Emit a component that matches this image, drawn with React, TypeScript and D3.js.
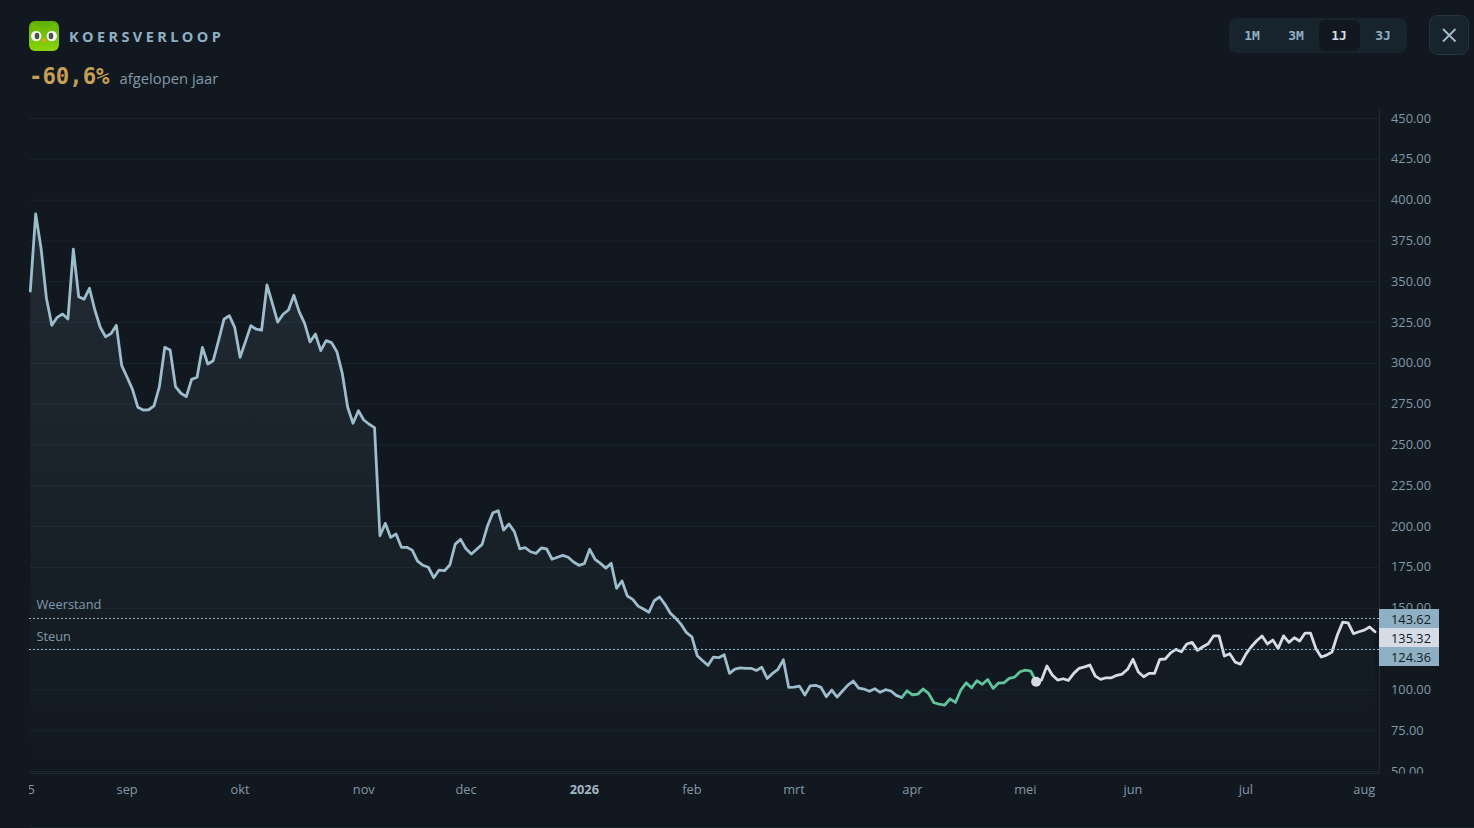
import { useEffect, useRef } from 'react'
import * as d3 from 'd3'

const W = 1474
const H = 828

const BG = '#11181f'
const BLUE = '#9dbccc'
const WHITE = '#d5dce6'
const GREEN = '#5fc49a'
const GRID = '#19242e'
const AXIS_TEXT = '#8199a9'
const LABEL_BLUE = '#8fb0c4'
const TEXT_FONT = "'Open Sans', 'Noto Sans', sans-serif"
const MONO_FONT = "'DejaVu Sans Mono', monospace"

// koers per handelsdag
const PRICES = [
  344.0, 391.2, 370.2, 339.6, 323.0, 327.9, 329.9, 326.9, 369.6, 340.5, 339.0, 345.7, 332.4, 321.8, 316.0, 317.9,
  323.0, 298.3, 291.2, 283.8, 272.8, 271.1, 271.3, 273.6, 285.4, 309.5, 307.9, 285.4, 281.4, 279.3, 289.9, 291.2,
  309.5, 299.3, 301.3, 313.6, 326.7, 328.9, 321.8, 303.4, 313.0, 322.8, 320.6, 320.0, 347.7, 336.5, 325.0, 329.8,
  332.4, 341.4, 331.2, 324.2, 312.8, 317.7, 307.5, 313.6, 312.4, 306.8, 293.6, 272.8, 263.0, 270.7, 265.0, 262.4,
  260.3, 194.1, 201.7, 193.1, 195.2, 187.0, 187.0, 185.3, 178.6, 176.0, 174.8, 168.4, 173.1, 172.7, 176.2, 189.0,
  191.9, 186.1, 182.9, 185.8, 188.8, 200.1, 208.2, 209.4, 197.6, 201.3, 196.6, 186.1, 186.8, 184.3, 183.3, 186.6,
  186.0, 179.7, 180.9, 182.1, 180.9, 178.0, 176.0, 177.0, 185.8, 179.7, 177.2, 174.3, 177.2, 161.9, 166.4, 157.2,
  155.1, 151.0, 149.2, 147.2, 154.3, 156.6, 152.1, 146.6, 143.5, 139.8, 134.7, 132.2, 120.6, 117.5, 114.7, 119.8,
  119.4, 121.2, 109.8, 112.4, 113.2, 112.9, 112.9, 111.6, 113.5, 106.7, 109.8, 112.3, 118.1, 101.2, 101.4, 102.0,
  96.5, 102.2, 102.5, 101.2, 95.5, 99.6, 95.3, 99.0, 102.6, 105.1, 100.8, 100.2, 98.8, 100.4, 98.2, 99.8,
  99.0, 96.3, 95.0, 99.1, 96.7, 97.1, 100.2, 97.5, 91.8, 91.0, 90.4, 94.1, 92.0, 99.6, 104.0, 101.0,
  105.3, 103.1, 106.1, 100.6, 103.9, 104.0, 106.7, 107.5, 110.8, 111.8, 111.2, 104.7, 105.7, 114.3, 108.8, 105.7,
  106.5, 105.5, 109.8, 112.9, 113.8, 114.9, 108.1, 106.1, 107.1, 107.1, 108.6, 109.4, 112.3, 118.4, 110.6, 107.7,
  109.8, 109.8, 118.4, 118.6, 122.4, 124.5, 123.0, 127.8, 128.8, 123.9, 126.1, 127.9, 132.8, 132.8, 120.4, 121.8,
  116.7, 115.5, 121.6, 126.1, 129.8, 132.7, 127.8, 130.2, 125.1, 132.8, 128.8, 131.6, 129.6, 134.5, 134.5, 125.1,
  119.8, 121.0, 122.9, 133.3, 141.2, 140.8, 134.1, 135.3, 136.3, 138.2, 135.32,
]

const GREEN_START = 162
const MARKER = 187

const Y_TICKS = [50, 75, 100, 125, 150, 175, 200, 225, 250, 275, 300, 325, 350, 375, 400, 425, 450]
const X_TICK_POS = [-0.5, 18, 39, 62, 81, 103, 123, 142, 164, 185, 205, 226, 248]
const X_TICK_LABELS = ['25', 'sep', 'okt', 'nov', 'dec', '2026', 'feb', 'mrt', 'apr', 'mei', 'jun', 'jul', 'aug']

const RESISTANCE = 143.62
const SUPPORT = 124.36
const LAST = 135.32

const RANGES = ['1M', '3M', '1J', '3J']
const RANGE_CENTERS = [1252, 1296, 1339, 1383]

const PLOT = { left: 29, right: 1379, top: 108, bottom: 773.5 }

export default function App() {
  const svgRef = useRef<SVGSVGElement>(null)

  useEffect(() => {
    const svg = svgRef.current
    if (!svg) return
    const sel = d3.select(svg)
    sel.selectAll('*').remove()

    const x = d3.scaleLinear().domain([0, PRICES.length - 1]).range([30.3, 1375])
    const y = d3.scaleLinear().domain([50, 450]).range([771, 118])

    const defs = sel.append('defs')
    const grad = defs.append('linearGradient').attr('id', 'area-grad').attr('x1', '0').attr('x2', '0').attr('y1', '0').attr('y2', '1')
    grad.append('stop').attr('offset', '0%').attr('stop-color', BLUE).attr('stop-opacity', 0.12)
    grad.append('stop').attr('offset', '100%').attr('stop-color', BLUE).attr('stop-opacity', 0.0)

    const owlGrad = defs.append('linearGradient').attr('id', 'owl-grad').attr('x1', '0').attr('x2', '0').attr('y1', '0').attr('y2', '1')
    owlGrad.append('stop').attr('offset', '0%').attr('stop-color', '#5fae08')
    owlGrad.append('stop').attr('offset', '100%').attr('stop-color', '#8bd50b')

    defs.append('clipPath').attr('id', 'plot-clip')
      .append('rect').attr('x', PLOT.left).attr('y', PLOT.top).attr('width', W - PLOT.left).attr('height', PLOT.bottom - PLOT.top)

    sel.append('rect').attr('width', W).attr('height', H).attr('fill', BG)
    // onderrand van het paneel
    sel.append('line').attr('x1', PLOT.left).attr('x2', W).attr('y1', 827.5).attr('y2', 827.5).attr('stroke', '#17212a')

    // ── Grid ──────────────────────────────────────────────────────────
    sel.append('g').selectAll('line').data(Y_TICKS).join('line')
      .attr('x1', PLOT.left).attr('x2', PLOT.right)
      .attr('y1', (d) => y(d) + 0.5).attr('y2', (d) => y(d) + 0.5)
      .attr('stroke', GRID)

    // ── Area + lijnen ─────────────────────────────────────────────────
    const area = d3.area<number>().x((_, i) => x(i)).y0(PLOT.bottom - 2).y1((d) => y(d))
    sel.append('path').datum(PRICES).attr('d', area).attr('fill', 'url(#area-grad)')

    const makeLine = (from: number) => d3.line<number>().x((_, i) => x(i + from)).y((d) => y(d))
    const segments = [
      { from: 0, to: GREEN_START, color: BLUE },
      { from: GREEN_START, to: MARKER, color: GREEN },
      { from: MARKER, to: PRICES.length - 1, color: WHITE },
    ]
    segments.forEach((s) => {
      sel.append('path')
        .datum(PRICES.slice(s.from, s.to + 1))
        .attr('d', makeLine(s.from))
        .attr('fill', 'none')
        .attr('stroke', s.color)
        .attr('stroke-width', 2.8)
        .attr('stroke-linejoin', 'round')
        .attr('stroke-linecap', 'round')
    })
    sel.append('circle').attr('cx', x(MARKER)).attr('cy', y(PRICES[MARKER])).attr('r', 5).attr('fill', WHITE)

    // ── Steun / weerstand ─────────────────────────────────────────────
    ;[RESISTANCE, SUPPORT].forEach((v) => {
      sel.append('line')
        .attr('x1', PLOT.left).attr('x2', PLOT.right)
        .attr('y1', Math.floor(y(v)) + 0.5).attr('y2', Math.floor(y(v)) + 0.5)
        .attr('stroke', LABEL_BLUE).attr('stroke-dasharray', '2,2')
    })
    const levelLabels = [
      { label: 'Weerstand', v: RESISTANCE, dy: -9.2 },
      { label: 'Steun', v: SUPPORT, dy: -8.4 },
    ]
    levelLabels.forEach((l) => {
      sel.append('text')
        .attr('x', 36.5).attr('y', y(l.v) + l.dy)
        .attr('fill', AXIS_TEXT).attr('font-size', '12.8px').attr('font-family', TEXT_FONT)
        .text(l.label)
    })

    // ── Assen ─────────────────────────────────────────────────────────
    const axisClip = sel.append('g').attr('clip-path', 'url(#plot-clip)')
    const yAxis = d3.axisRight(y).tickValues(Y_TICKS).tickFormat((d) => d3.format('.2f')(d as number)).tickSize(0).tickPadding(12)
    axisClip.append('g').attr('transform', `translate(${PLOT.right},-0.1)`)
      .call(yAxis)
      .call((g) => g.select('.domain').remove())
      .call((g) => g.selectAll('.tick text').attr('fill', AXIS_TEXT).attr('font-size', '12.8px').attr('font-family', TEXT_FONT))

    sel.append('line').attr('x1', PLOT.right + 0.5).attr('x2', PLOT.right + 0.5).attr('y1', PLOT.top).attr('y2', PLOT.bottom).attr('stroke', '#1e2a34')
    sel.append('line').attr('x1', PLOT.left).attr('x2', PLOT.right).attr('y1', PLOT.bottom).attr('y2', PLOT.bottom).attr('stroke', '#1e2a34')

    defs.append('clipPath').attr('id', 'x-clip')
      .append('rect').attr('x', PLOT.left).attr('y', PLOT.bottom).attr('width', W - PLOT.left).attr('height', H - PLOT.bottom)
    const xAxis = d3.axisBottom(x).tickValues(X_TICK_POS).tickFormat((_, i) => X_TICK_LABELS[i]).tickSize(0).tickPadding(11.5)
    sel.append('g').attr('clip-path', 'url(#x-clip)').append('g').attr('transform', `translate(-0.5,${PLOT.bottom})`)
      .call(xAxis)
      .call((g) => g.select('.domain').remove())
      .call((g) => g.selectAll<SVGTextElement, number>('.tick text')
        .attr('fill', AXIS_TEXT).attr('font-size', '12.8px').attr('font-family', TEXT_FONT)
        .filter((_, i) => X_TICK_LABELS[i] === '2026')
        .attr('font-weight', 700).attr('fill', '#a3b6c4'))

    // ── Prijslabels ───────────────────────────────────────────────────
    const priceLabels = [
      { v: RESISTANCE, top: 609, fill: LABEL_BLUE },
      { v: SUPPORT, top: 647, fill: LABEL_BLUE },
      { v: LAST, top: 628, fill: WHITE },
    ]
    priceLabels.forEach((p) => {
      sel.append('rect').attr('x', PLOT.right).attr('y', p.top).attr('width', 60).attr('height', 19).attr('fill', p.fill)
      sel.append('text')
        .attr('x', PLOT.right + 12).attr('y', p.top + 14.5)
        .attr('fill', '#131a22').attr('font-size', '12.8px').attr('font-family', TEXT_FONT)
        .text(d3.format('.2f')(p.v))
    })

    // ── Header ────────────────────────────────────────────────────────
    const owl = sel.append('g').attr('transform', 'translate(29,21)')
    owl.append('rect').attr('width', 30).attr('height', 30).attr('rx', 6).attr('fill', 'url(#owl-grad)')
    owl.append('path').attr('d', 'M3 2 L11 7 L19 7 L27 2 L27 12 L3 12 Z').attr('fill', '#72bd0a').attr('opacity', 0.7)
    ;[7.2, 22.8].forEach((cx) => {
      owl.append('circle').attr('cx', cx).attr('cy', 15).attr('r', 5.2).attr('fill', '#f4f7ee')
      owl.append('ellipse').attr('cx', cx + (cx < 15 ? 0.8 : -0.8)).attr('cy', 15).attr('rx', 2.3).attr('ry', 3.2).attr('fill', '#4b5052')
    })
    owl.append('path').attr('d', 'M13 18.5 L17 18.5 L15 21.5 Z').attr('fill', '#f09a24').attr('stroke', '#f09a24').attr('stroke-linejoin', 'round')

    sel.append('text')
      .attr('x', 69).attr('y', 41.5)
      .attr('fill', LABEL_BLUE).attr('font-size', '14.5px').attr('font-weight', 700)
      .attr('letter-spacing', '3.4px').attr('font-family', TEXT_FONT)
      .text('KOERSVERLOOP')

    sel.append('text')
      .attr('x', 29).attr('y', 84)
      .attr('fill', '#c49f55').attr('font-size', '22.3px').attr('font-weight', 700).attr('font-family', MONO_FONT)
      .text('-60,6%')
    sel.append('text')
      .attr('x', 119.5).attr('y', 84)
      .attr('fill', AXIS_TEXT).attr('font-size', '14.8px').attr('font-family', TEXT_FONT)
      .text('afgelopen jaar')

    // ── Periodeknoppen ────────────────────────────────────────────────
    sel.append('rect').attr('x', 1229).attr('y', 18).attr('width', 178).attr('height', 35).attr('rx', 8).attr('fill', '#18242d')
    sel.append('rect').attr('x', 1319).attr('y', 20).attr('width', 41).attr('height', 31).attr('rx', 6).attr('fill', '#11181f')
    RANGES.forEach((r, i) => {
      sel.append('text')
        .attr('x', RANGE_CENTERS[i]).attr('y', 40)
        .attr('text-anchor', 'middle')
        .attr('fill', r === '1J' ? '#d5dce6' : LABEL_BLUE)
        .attr('font-size', '13px').attr('font-weight', 700).attr('font-family', MONO_FONT)
        .text(r)
    })

    sel.append('rect').attr('x', 1429.5).attr('y', 15.5).attr('width', 39).attr('height', 39).attr('rx', 8).attr('fill', '#18242d').attr('stroke', '#243540')
    sel.append('path').attr('d', 'M1443 29 L1455.5 41.5 M1455.5 29 L1443 41.5').attr('stroke', '#a3bccb').attr('stroke-width', 1.8).attr('fill', 'none')
  }, [])

  return <svg ref={svgRef} width={W} height={H} style={{ position: 'fixed', top: 0, left: 0, display: 'block' }} />
}
